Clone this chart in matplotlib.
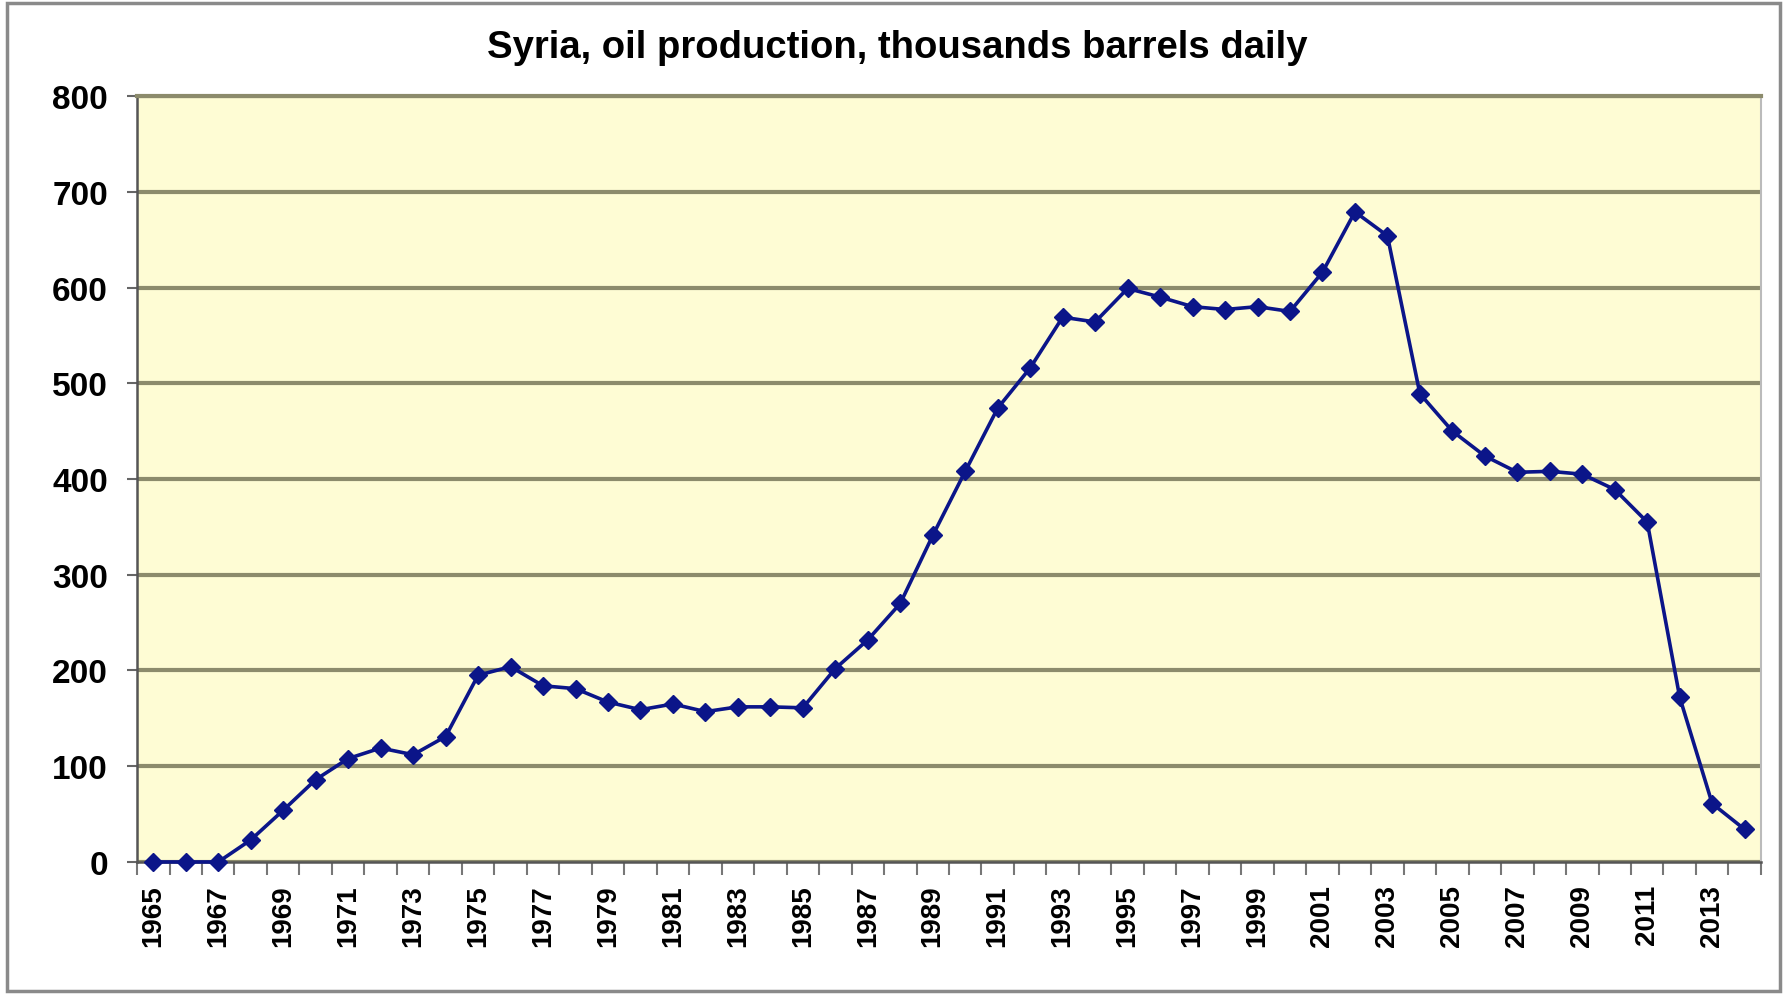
import matplotlib
matplotlib.use("Agg")
import matplotlib.pyplot as plt
from matplotlib.patches import Rectangle

years = list(range(1965, 2015))
production = [0, 0, 0, 23, 54, 86, 108, 119, 112, 131,
              195, 204, 184, 181, 167, 159, 165, 157, 162, 162,
              161, 202, 232, 270, 341, 408, 474, 516, 569, 564,
              599, 590, 580, 577, 580, 575, 616, 679, 654, 489,
              450, 424, 407, 408, 405, 389, 355, 172, 61, 34]
yticks = [0, 100, 200, 300, 400, 500, 600, 700, 800]
title = "Syria, oil production, thousands barrels daily"

plt.rcParams['font.family'] = ['Liberation Sans', 'DejaVu Sans']

fig = plt.figure(figsize=(17.87, 9.95), dpi=100)
fig.patch.set_facecolor('white')
fig.patches.append(Rectangle((0.004, 0.003), 0.992, 0.993, transform=fig.transFigure,
                             fill=False, edgecolor='#8a8a8a', linewidth=2.5))

ax = fig.add_axes([0.0767, 0.1327, 0.9087, 0.7698])
ax.set_facecolor('#FEFCD4')

x = list(range(len(years)))
ax.plot(x, production, color='#0B1589', linewidth=2.6, marker='D',
        markersize=9, markerfacecolor='#0B1589', markeredgecolor='#0B1589', zorder=3,
        clip_on=False)

ax.set_xlim(-0.5, len(years) - 0.5)
ax.set_ylim(0, 800)
ax.set_yticks(yticks)
ax.set_yticklabels([str(v) for v in yticks], fontsize=24, fontweight='bold')
ax.yaxis.grid(True, color='#8C8B6C', linewidth=3)
ax.set_axisbelow(True)

# category labels every other year at category centres
ax.set_xticks(x[::2])
ax.set_xticklabels([str(y) for y in years[::2]], rotation=90, fontsize=20,
                   fontweight='bold')
ax.tick_params(axis='x', which='major', length=0, pad=16)
# tick marks at category boundaries
ax.set_xticks([i - 0.5 for i in range(len(years) + 1)], minor=True)
ax.tick_params(axis='x', which='minor', length=9, width=1.5, color='#777777', direction='out')
ax.tick_params(axis='y', length=7, width=1.5, color='#666666', pad=14)

for s in ['left', 'bottom']:
    ax.spines[s].set_color('#555555')
    ax.spines[s].set_linewidth(1.8)
ax.spines['top'].set_color('#8C8B6C')
ax.spines['top'].set_linewidth(3)
ax.spines['right'].set_color('#bbbbbb')
ax.spines['right'].set_linewidth(1.5)

fig.text(0.502, 0.952, title, ha='center', va='center', fontsize=27.5, fontweight='bold')

fig.savefig('out.png', dpi=100)
